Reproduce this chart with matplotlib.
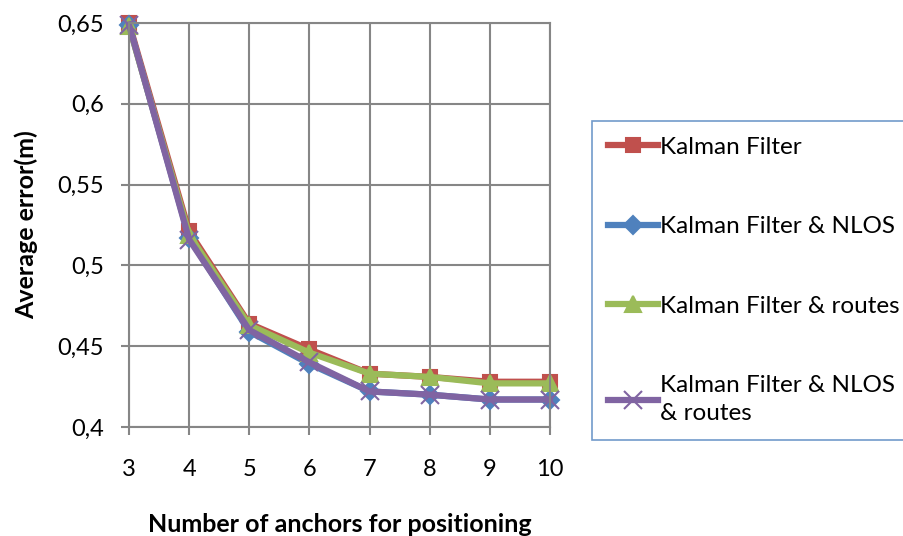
import matplotlib.pyplot as plt
from matplotlib.ticker import FixedLocator, FuncFormatter

# Data
anchors = [3, 4, 5, 6, 7, 8, 9, 10]
kalman = [0.650, 0.521, 0.464, 0.448, 0.433, 0.431, 0.428, 0.428]
kalman_nlos = [0.649, 0.517, 0.459, 0.439, 0.422, 0.420, 0.417, 0.417]
kalman_routes = [0.648, 0.519, 0.463, 0.446, 0.433, 0.431, 0.427, 0.427]
kalman_nlos_routes = [0.649, 0.516, 0.460, 0.440, 0.422, 0.420, 0.417, 0.417]

labels = ["Kalman Filter", "Kalman Filter & NLOS", "Kalman Filter & routes",
          "Kalman Filter & NLOS\n& routes"]
colors = ["#C0504D", "#4F81BD", "#9BBB59", "#8064A2"]
markers = ["s", "D", "^", "x"]
msizes = [10, 9, 11, 13]
yticks = [0.4, 0.45, 0.5, 0.55, 0.6, 0.65]

plt.rcParams['font.family'] = ['Lato', 'DejaVu Sans']
grid_col = "#868686"

fig = plt.figure(figsize=(9.04, 5.36), dpi=100)
ax = fig.add_axes([129 / 904, (536 - 427) / 536, (550 - 129) / 904, (427 - 23) / 536])

series = [kalman, kalman_nlos, kalman_routes, kalman_nlos_routes]
for vals, lab, c, m, ms in zip(series, labels, colors, markers, msizes):
    ax.plot(anchors, vals, color=c, lw=4.5, marker=m, ms=ms, mew=1.5,
            mec=c, mfc=c, label=lab, clip_on=False)

ax.set_xlim(3, 10)
ax.set_ylim(0.4, 0.65)
ax.xaxis.set_major_locator(FixedLocator(anchors))
ax.yaxis.set_major_locator(FixedLocator(yticks))
ax.yaxis.set_major_formatter(FuncFormatter(lambda v, p: ("%g" % round(v, 2)).replace(".", ",")))
ax.grid(True, color=grid_col, lw=1.5)
ax.set_axisbelow(True)
for s in ax.spines.values():
    s.set_color(grid_col)
    s.set_linewidth(1.5)
ax.tick_params(axis="both", direction="out", length=6, width=1.5, color=grid_col,
               labelsize=17)
ax.tick_params(axis="x", pad=17)
ax.tick_params(axis="y", pad=12)

ax.set_xlabel("Number of anchors for positioning", fontsize=18, fontweight="bold", labelpad=24)
ax.set_ylabel("Average error(m)", fontsize=18, fontweight="bold", labelpad=14)

leg = fig.legend(loc="upper left", bbox_to_anchor=(592 / 904, 1 - 121 / 536),
                 bbox_transform=fig.transFigure, fontsize=17.5, frameon=True,
                 fancybox=False, handlelength=2.05, handletextpad=0.1,
                 labelspacing=2.4, borderpad=0.65, borderaxespad=0)
leg.get_frame().set_edgecolor("#4F81BD")
leg.get_frame().set_linewidth(1.2)
for t in leg.get_texts():
    t.set_linespacing(1.45)

fig.savefig("out.png", dpi=100)
